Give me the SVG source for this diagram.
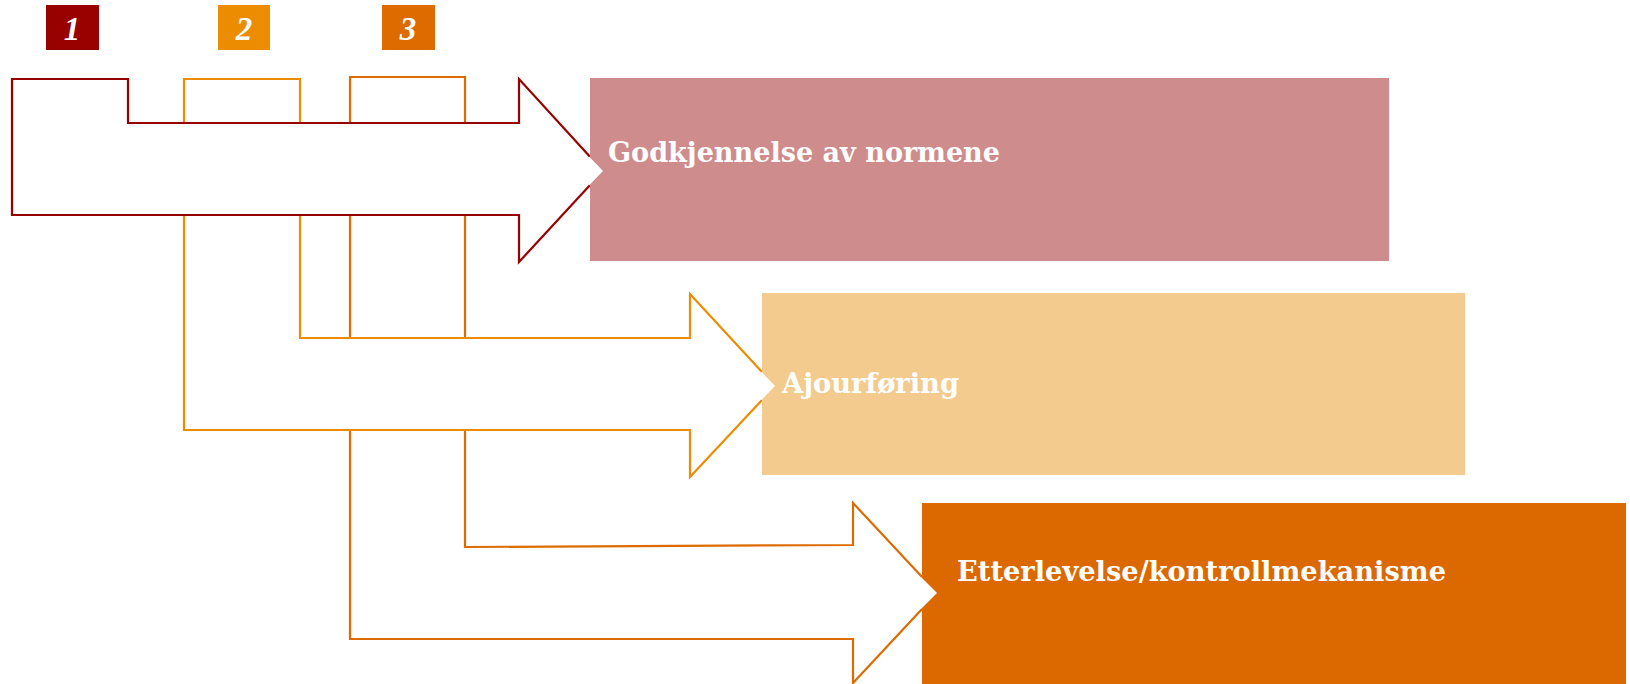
<svg xmlns="http://www.w3.org/2000/svg" width="1630" height="684" viewBox="0 0 1630 684">
<style>
.arrow{fill:#ffffff;stroke-width:2.2;stroke-linejoin:miter}
.a1{stroke:#990000}
.a2{stroke:#EC8C00}
.a3{stroke:#DD6B00}
.tip{fill:#ffffff;stroke:none}
.lbl{font-family:"DejaVu Serif","Liberation Serif",serif;font-weight:bold;font-size:28px;fill:#ffffff}
.num{font-family:"Liberation Serif","DejaVu Serif",serif;font-weight:bold;font-style:italic;font-size:33px;fill:#ffffff;text-anchor:middle}
</style>
<rect width="1630" height="684" fill="#ffffff"/>
<g id="connectors">
<polygon id="arrow3" class="arrow a3" points="350,77 465,77 465,547 853,545 853,503 937,593 853,683 853,639 350,639"/>
<polygon id="arrow2" class="arrow a2" points="184,79 300,79 300,338 690,338 690,294 775,386 690,477 690,430 184,430"/>
<polygon id="arrow1" class="arrow a1" points="12,79 128,79 128,123 519,123 519,79 603,171 519,262 519,215 12,215"/>
</g>
<g id="label1">
<rect x="46" y="5" width="53" height="45" fill="#990000"/>
<text class="num" x="72" y="40">1</text>
</g>
<g id="label2">
<rect x="218" y="5" width="52" height="45" fill="#EC8C00"/>
<text class="num" x="244" y="40">2</text>
</g>
<g id="label3">
<rect x="382" y="5" width="53" height="45" fill="#DD6B00"/>
<text class="num" x="408" y="40">3</text>
</g>
<g id="node1">
<rect x="590" y="78" width="799" height="183" fill="#CF8C8D"/>
<polygon class="tip" points="589,156.5 603,171 589,185.5"/>
<text class="lbl" x="608" y="162" textLength="392" lengthAdjust="spacingAndGlyphs">Godkjennelse av normene</text>
</g>
<g id="node2">
<rect x="762" y="293" width="703" height="182" fill="#F4CB8E"/>
<polygon class="tip" points="761,371.5 775,386 761,400.5"/>
<text class="lbl" x="782" y="393" textLength="177" lengthAdjust="spacingAndGlyphs">Ajourføring</text>
</g>
<g id="node3">
<rect x="922" y="503" width="704" height="181" fill="#DC6900"/>
<polygon class="tip" points="921,577 937,593 921,609"/>
<text class="lbl" x="957" y="581" textLength="489" lengthAdjust="spacingAndGlyphs">Etterlevelse/kontrollmekanisme</text>
</g>
</svg>
